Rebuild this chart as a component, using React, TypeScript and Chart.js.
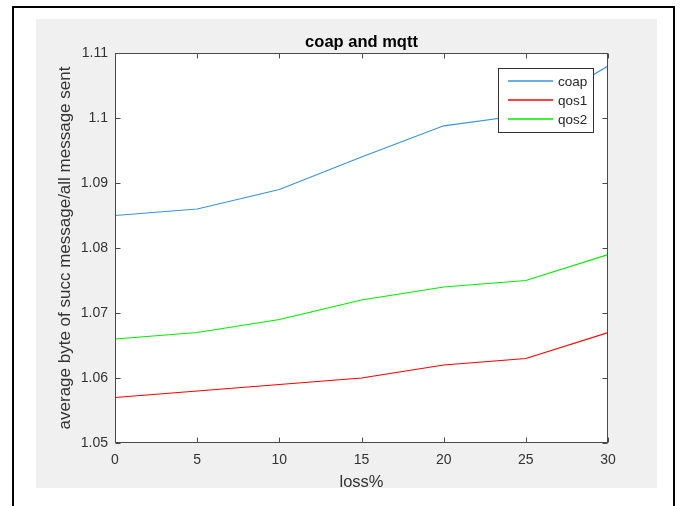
import React, { useEffect, useRef } from "react";
import { Chart, registerables } from "chart.js";

Chart.register(...registerables);

const lossPercent = [0, 5, 10, 15, 20, 25, 30];
const coapValues = [1.085, 1.086, 1.089, 1.094, 1.0988, 1.1005, 1.108];
const qos1Values = [1.057, 1.058, 1.059, 1.06, 1.062, 1.063, 1.067];
const qos2Values = [1.066, 1.067, 1.069, 1.072, 1.074, 1.075, 1.079];
const seriesNames = ["coap", "qos1", "qos2"];
const seriesColors = ["#3a93d4", "#ff0000", "#00ee00"];
const xTicks = [0, 5, 10, 15, 20, 25, 30];
const yTicks = [1.05, 1.06, 1.07, 1.08, 1.09, 1.1, 1.11];
const titleText = "coap and mqtt";
const xLabelText = "loss%";
const yLabelText = "average byte of succ message/all message sent";

const FONT = "'Liberation Sans', Arial, Helvetica, sans-serif";
const AXIS_COLOR = "#333333";

const matlabPlugin = {
  id: "matlabDecor",
  beforeDraw(chart: any) {
    const { ctx, chartArea: a } = chart;
    ctx.save();
    ctx.fillStyle = "#ffffff";
    ctx.fillRect(a.left, a.top, a.right - a.left, a.bottom - a.top);
    ctx.restore();
  },
  afterDraw(chart: any) {
    const { ctx, chartArea: a, scales } = chart;
    const xs = scales.x;
    const ys = scales.y;
    ctx.save();
    // frame
    const L = Math.round(a.left) + 0.5;
    const R = Math.round(a.right) - 0.5;
    const T = Math.round(a.top) + 0.5;
    const B = Math.round(a.bottom) - 0.5;
    ctx.strokeStyle = "#4a4a4a";
    ctx.lineWidth = 1;
    ctx.strokeRect(L, T, R - L, B - T);
    const tl = 5;
    ctx.beginPath();
    xTicks.forEach((v) => {
      const px = Math.round(xs.getPixelForValue(v)) + 0.5;
      ctx.moveTo(px, B);
      ctx.lineTo(px, B - tl);
      ctx.moveTo(px, T);
      ctx.lineTo(px, T + tl);
    });
    yTicks.forEach((v) => {
      const py = Math.round(ys.getPixelForValue(v)) + 0.5;
      ctx.moveTo(L, py);
      ctx.lineTo(L + tl, py);
      ctx.moveTo(R, py);
      ctx.lineTo(R - tl, py);
    });
    ctx.stroke();

    const cx = (a.left + a.right) / 2;
    const cy = (a.top + a.bottom) / 2;

    // title
    ctx.fillStyle = "#000000";
    ctx.font = `bold 16.5px ${FONT}`;
    ctx.textAlign = "center";
    ctx.textBaseline = "middle";
    ctx.fillText(titleText, cx, a.top - 11);

    // x label
    ctx.fillStyle = AXIS_COLOR;
    ctx.font = `16.5px ${FONT}`;
    ctx.textBaseline = "alphabetic";
    ctx.fillText(xLabelText, cx, a.bottom + 44);

    // y label
    ctx.save();
    ctx.translate(a.left - 50, cy);
    ctx.rotate(-Math.PI / 2);
    ctx.font = `17px ${FONT}`;
    ctx.textBaseline = "middle";
    ctx.textAlign = "center";
    ctx.fillText(yLabelText, 0, 0);
    ctx.restore();

    // legend
    const bw = 95;
    const bh = 64;
    const bx = Math.round(a.right) - 15 - bw;
    const by = Math.round(a.top) + 15;
    ctx.fillStyle = "#ffffff";
    ctx.fillRect(bx, by, bw, bh);
    ctx.strokeStyle = "#333333";
    ctx.lineWidth = 1;
    ctx.strokeRect(bx + 0.5, by + 0.5, bw, bh);
    ctx.font = `13.5px ${FONT}`;
    ctx.textAlign = "left";
    ctx.textBaseline = "middle";
    chart.data.datasets.forEach((ds: any, i: number) => {
      const ly = by + 13 + i * 19;
      ctx.strokeStyle = ds.borderColor;
      ctx.lineWidth = 1.5;
      ctx.beginPath();
      ctx.moveTo(bx + 10, ly);
      ctx.lineTo(bx + 55, ly);
      ctx.stroke();
      ctx.fillStyle = "#262626";
      ctx.fillText(ds.label, bx + 60, ly + 1);
    });
    ctx.restore();
  },
};

export default function App() {
  const ref = useRef<HTMLCanvasElement | null>(null);

  useEffect(() => {
    if (!ref.current) return;
    const allSeries = [coapValues, qos1Values, qos2Values];
    const chart = new Chart(ref.current, {
      type: "line",
      data: {
        datasets: allSeries.map((vals, i) => ({
          label: seriesNames[i],
          data: lossPercent.map((x, j) => ({ x, y: vals[j] })),
          borderColor: seriesColors[i],
          backgroundColor: seriesColors[i],
          borderWidth: 1.2,
          pointRadius: 0,
          tension: 0,
          fill: false,
        })),
      },
      options: {
        animation: false,
        responsive: false,
        devicePixelRatio: 1,
        layout: { padding: { top: 34, right: 49, left: 0, bottom: 0 } },
        plugins: {
          legend: { display: false },
          title: { display: false },
          tooltip: { enabled: false },
        },
        scales: {
          x: {
            type: "linear",
            min: 0,
            max: 30,
            grid: { display: false, drawTicks: false },
            border: { display: false },
            afterBuildTicks: (s: any) => {
              s.ticks = xTicks.map((v) => ({ value: v }));
            },
            afterFit: (s: any) => {
              s.height = 45;
            },
            ticks: {
              padding: 9,
              maxRotation: 0,
              color: AXIS_COLOR,
              font: { family: FONT, size: 14 },
              callback: (v: any) => String(v),
            },
          },
          y: {
            type: "linear",
            min: 1.05,
            max: 1.11,
            grid: { display: false, drawTicks: false },
            border: { display: false },
            afterBuildTicks: (s: any) => {
              s.ticks = yTicks.map((v) => ({ value: v }));
            },
            afterFit: (s: any) => {
              s.width = 79;
            },
            ticks: {
              padding: 7,
              color: AXIS_COLOR,
              font: { family: FONT, size: 14 },
              callback: (v: any) => String(Number(Number(v).toFixed(2))),
            },
          },
        },
      },
      plugins: [matlabPlugin],
    } as any);
    return () => chart.destroy();
  }, []);

  return (
    <div
      style={{
        position: "fixed",
        left: 0,
        top: 0,
        width: 683,
        height: 506,
        background: "#ffffff",
        overflow: "hidden",
      }}
    >
      <div
        style={{
          position: "absolute",
          left: 12,
          top: 6,
          width: 659,
          height: 520,
          border: "2px solid #000000",
          boxSizing: "content-box",
        }}
      />
      <canvas
        ref={ref}
        width={621}
        height={469}
        style={{
          position: "absolute",
          left: 36,
          top: 19,
          width: 621,
          height: 469,
          background: "#f0f0f0",
          display: "block",
        }}
      />
    </div>
  );
}
